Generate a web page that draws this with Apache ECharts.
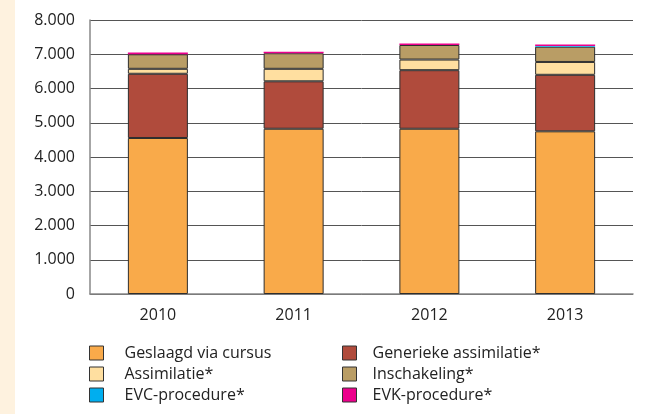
<!DOCTYPE html>
<html>
<head>
    <meta charset="utf-8">
    <title>chart</title>
    <script src="https://cdn.jsdelivr.net/npm/echarts@6/dist/echarts.min.js"></script>
    <style>
        html, body { margin: 0; padding: 0; background: #fff; }
        #strip { position: absolute; left: 0; top: 0; width: 15px; height: 414px; background: #fef2df; }
        #app { position: absolute; left: 0; top: 0; width: 648px; height: 414px; }
    </style>
</head>
<body>
    <div id="strip"></div>
    <div id="app"></div>
<script type="text/javascript">
    // jaren
    var years = ['2010', '2011', '2012', '2013'];
    var geslaagd = [4555, 4825, 4825, 4750];
    var generiek = [1875, 1385, 1710, 1650];
    var assimilatie = [145, 365, 310, 375];
    var inschakeling = [425, 455, 425, 445];
    var evc = [0, 0, 0, 20];
    var evk = [50, 45, 45, 45];

    var names = ['Geslaagd via cursus', 'Generieke assimilatie*', 'Assimilatie*', 'Inschakeling*', 'EVC-procedure*', 'EVK-procedure*'];
    var values = [geslaagd, generiek, assimilatie, inschakeling, evc, evk];
    var colors = ['#f9aa4a', '#b04b3c', '#ffdfa0', '#b99d65', '#00aeef', '#ec008c'];

    var series = [];
    for (var i = 0; i < names.length; i++) {
        series.push({
            name: names[i],
            type: 'bar',
            stack: 'totaal',
            barWidth: 60,
            itemStyle: {
                color: colors[i],
                borderColor: '#2e2e2e',
                borderWidth: (i >= 4) ? 0 : 1
            },
            data: values[i]
        });
    }

    function legendCol(left, gap, items) {
        return {
            orient: 'vertical',
            left: left, top: 345, height: 70,
            padding: 0,
            icon: 'rect',
            itemWidth: 14, itemHeight: 14, itemGap: 5,
            itemStyle: { borderColor: '#333', borderWidth: 1 },
            textStyle: { fontFamily: 'Open Sans', fontSize: 16, color: '#222', lineHeight: 14, padding: [0, 0, 0, gap] },
            data: items
        };
    }

    var option = {
        animation: false,
        textStyle: { fontFamily: 'Open Sans' },
        grid: { left: 90, right: 15, top: 20, bottom: 120 },
        legend: [
            legendCol(89, 16, [names[0], names[2], names[4]]),
            legendCol(342, 11, [names[1], names[3], names[5]])
        ],
        xAxis: {
            type: 'category',
            data: years,
            axisLine: { lineStyle: { color: '#888', width: 1.5 } },
            axisTick: { inside: true, length: 11, lineStyle: { color: '#333' } },
            axisLabel: { fontSize: 16, color: '#222', margin: 13 }
        },
        yAxis: {
            type: 'value',
            min: 0, max: 8000, interval: 1000,
            axisLine: { show: true, lineStyle: { color: '#888', width: 1.5 } },
            axisTick: { show: false },
            axisLabel: {
                fontSize: 16, color: '#222', margin: 15,
                formatter: function (v) { return v === 0 ? '0' : (v / 1000) + '.000'; }
            },
            splitLine: { lineStyle: { color: '#555', width: 1 } }
        },
        series: series
    };
    var myChart = echarts.init(document.getElementById('app'));
    myChart.setOption(option);
</script>
</body>
</html>
